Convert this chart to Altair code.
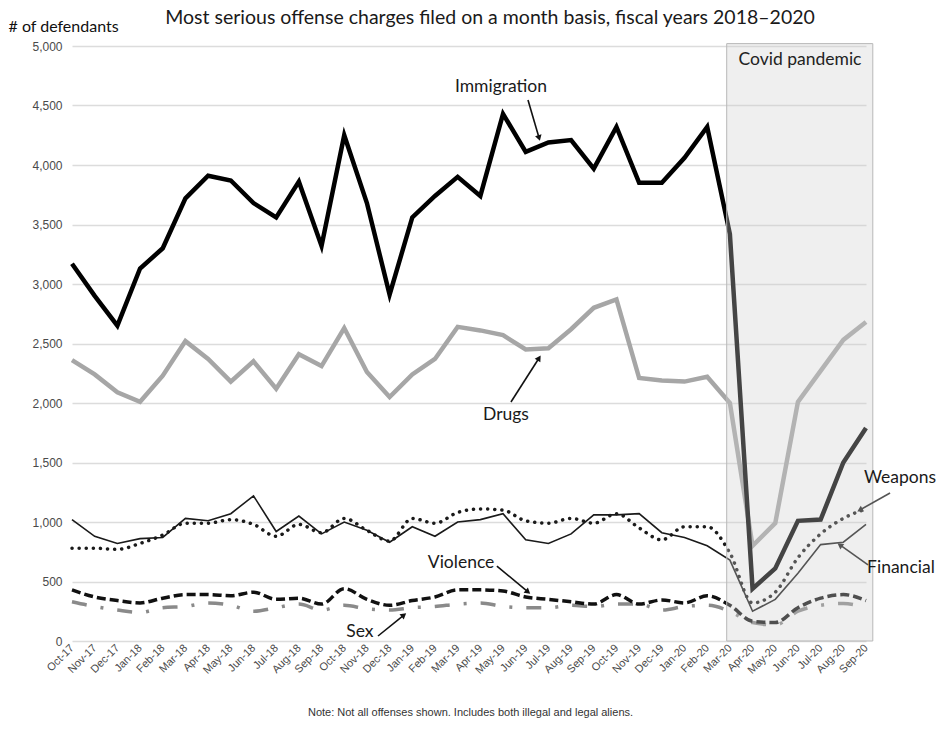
import json
import math

import altair as alt
import pandas as pd

# ---- data -------------------------------------------------------------
months = [
    "Oct-17", "Nov-17", "Dec-17", "Jan-18", "Feb-18", "Mar-18", "Apr-18", "May-18",
    "Jun-18", "Jul-18", "Aug-18", "Sep-18", "Oct-18", "Nov-18", "Dec-18", "Jan-19",
    "Feb-19", "Mar-19", "Apr-19", "May-19", "Jun-19", "Jul-19", "Aug-19", "Sep-19",
    "Oct-19", "Nov-19", "Dec-19", "Jan-20", "Feb-20", "Mar-20", "Apr-20", "May-20",
    "Jun-20", "Jul-20", "Aug-20", "Sep-20",
]

immigration = [3170, 2900, 2650, 3130, 3300, 3720, 3910, 3870, 3680, 3560, 3860, 3320,
               4250, 3680, 2910, 3560, 3740, 3900, 3740, 4430, 4110, 4190, 4210, 3970,
               4320, 3850, 3850, 4060, 4320, 3420, 440, 610, 1010, 1020, 1500, 1790]
drugs = [2360, 2240, 2090, 2010, 2230, 2520, 2370, 2180, 2350, 2120, 2410, 2310,
         2630, 2260, 2050, 2240, 2370, 2640, 2610, 2570, 2450, 2460, 2620, 2800,
         2870, 2210, 2190, 2180, 2220, 2000, 800, 990, 2010, 2270, 2530, 2680]
financial = [1020, 880, 820, 860, 870, 1030, 1010, 1070, 1220, 920, 1050, 900,
             1000, 930, 830, 960, 880, 1000, 1020, 1070, 850, 820, 900, 1060,
             1060, 1070, 910, 870, 800, 680, 250, 350, 570, 810, 830, 980]
weapons = [780, 780, 770, 820, 890, 990, 990, 1020, 980, 880, 980, 910,
           1030, 930, 840, 1030, 990, 1080, 1110, 1100, 1010, 990, 1030, 990,
           1070, 950, 850, 960, 960, 740, 320, 410, 700, 900, 1030, 1110]
violence = [430, 370, 340, 320, 360, 390, 390, 380, 410, 350, 360, 310,
            440, 350, 300, 340, 370, 430, 430, 420, 370, 350, 330, 310,
            390, 310, 345, 320, 380, 300, 165, 155, 280, 360, 390, 340]
sex = [330, 290, 260, 240, 280, 290, 320, 300, 250, 280, 310, 260,
       300, 270, 260, 280, 290, 310, 320, 290, 280, 280, 300, 290,
       310, 310, 260, 290, 300, 250, 155, 135, 250, 300, 315, 280]

series = {
    "Sex": sex,
    "Violence": violence,
    "Weapons": weapons,
    "Financial": financial,
    "Drugs": drugs,
    "Immigration": immigration,
}

# Covid shading, in month-index units and defendants
covid_x = [28.86, 35.3]
covid_y = [0, 5020]

# Annotation labels: text, month index, value
label_text = ["Immigration", "Drugs", "Violence", "Sex", "Weapons", "Financial"]
label_idx = [18.91, 19.13, 17.15, 12.69, 36.5, 36.54]
label_val = [4655, 1899, 655, 76, 1370, 613]

# Arrows: start (index, value) -> end (index, value)
arrow_x0 = [20.10, 19.35, 18.73, 13.49, 36.06, 35.09]
arrow_y0 = [4546, 2008, 630, 42, 1244, 639]
arrow_x1 = [20.59, 20.59, 20.10, 14.63, 34.73, 33.85]
arrow_y1 = [4227, 2378, 412, 218, 1101, 807]
arrow_col = ["#111111", "#111111", "#111111", "#111111", "#555555", "#555555"]

# ---- geometry ---------------------------------------------------------
W, H = 794, 595
X_MAX, Y_MAX = 35, 5000

rows = []
for name, vals in series.items():
    for i, v in enumerate(vals):
        rows.append({"series": name, "idx": i, "value": v})
df = pd.DataFrame(rows)

label_expr = json.dumps(months) + "[datum.value]"

x_axis = alt.Axis(
    values=list(range(len(months))), labelExpr=label_expr, labelAngle=315,
    labelAlign="right", labelBaseline="middle", labelPadding=5,
    labelOverlap=False, labelFontSize=11, labelFont="Liberation Sans",
    labelColor="#4a4a4a",
    grid=False, ticks=False, domain=False,
    title="Note: Not all offenses shown. Includes both illegal and legal aliens.",
    titleFont="Liberation Sans", titleFontSize=11, titleFontWeight="normal",
    titleColor="#333333", titleX=398, titleY=71, titleAlign="center",
    titleBaseline="middle",
)
y_axis = alt.Axis(
    values=list(range(0, 5001, 500)), format=",d", grid=True,
    gridColor="#dcdcdc", gridWidth=1.5, domain=False, ticks=False,
    labelPadding=10, labelFontSize=12, labelFont="Liberation Sans",
    labelColor="#4a4a4a",
    title="# of defendants", titleAngle=0, titleX=-64, titleY=-20,
    titleAlign="left", titleBaseline="middle", titleFont="Lato",
    titleFontSize=16, titleFontWeight="normal", titleColor="#111111",
)

x_scale = alt.Scale(domain=[0, X_MAX], nice=False, zero=False)
y_scale = alt.Scale(domain=[0, Y_MAX], nice=False)


def xq(field):
    return alt.X(field, type="quantitative", scale=x_scale, axis=x_axis)


def yq(field):
    return alt.Y(field, type="quantitative", scale=y_scale, axis=y_axis)


styles = {
    "Sex": dict(color="#8a8a8a", strokeWidth=3.5, strokeDash=[15, 14, 3, 14],
                interpolate="monotone"),
    "Violence": dict(color="#111111", strokeWidth=3.5, strokeDash=[9, 4],
                     interpolate="monotone"),
    "Weapons": dict(color="#1a1a1a", strokeWidth=3.5, strokeDash=[0.1, 7],
                    strokeCap="round", interpolate="monotone"),
    "Financial": dict(color="#1a1a1a", strokeWidth=1.6),
    "Drugs": dict(color="#a6a6a6", strokeWidth=4.5),
    "Immigration": dict(color="#000000", strokeWidth=4.5),
}

layers = []
for name in series:
    layers.append(
        alt.Chart(df)
        .transform_filter(alt.datum.series == name)
        .mark_line(**styles[name])
        .encode(x=xq("idx"), y=yq("value"))
    )

# translucent covid overlay
covid_df = pd.DataFrame({"x0": [covid_x[0]], "x1": [covid_x[1]],
                         "y0": [covid_y[0]], "y1": [covid_y[1]]})
covid = alt.Chart(covid_df).mark_rect(
    fill="#cfcfcf", fillOpacity=0.33, stroke="#b8b8b8", strokeWidth=1
).encode(x=xq("x0"), x2="x1:Q", y=yq("y0"), y2="y1:Q")
layers.append(covid)

covid_label = alt.Chart(
    pd.DataFrame({"t": ["Covid pandemic"], "i": [32.09], "v": [4882]})
).mark_text(
    font="Lato", fontSize=17.5, color="#222222", align="center", baseline="middle"
).encode(x=xq("i"), y=yq("v"), text="t:N")
layers.append(covid_label)

# arrows
arr_df = pd.DataFrame({"x0": arrow_x0, "y0": arrow_y0, "x1": arrow_x1,
                       "y1": arrow_y1, "col": arrow_col})
angles = []
for a, b, c, d in zip(arrow_x0, arrow_y0, arrow_x1, arrow_y1):
    dx = (c - a) * W / X_MAX
    dy = -(d - b) * H / Y_MAX
    angles.append(math.degrees(math.atan2(dx, -dy)) % 360)
arr_df["ang"] = angles

shafts = alt.Chart(arr_df).mark_rule(strokeWidth=1.6).encode(
    x=xq("x0"), y=yq("y0"), x2="x1:Q", y2="y1:Q",
    color=alt.Color("col:N", scale=None),
)
heads = alt.Chart(arr_df).mark_point(
    shape="triangle-up", filled=True, size=45, opacity=1
).encode(
    x=xq("x1"), y=yq("y1"),
    angle=alt.Angle("ang:Q", scale=None),
    color=alt.Color("col:N", scale=None),
)
layers += [shafts, heads]

lab_df = pd.DataFrame({"t": label_text, "i": label_idx, "v": label_val})
labels = alt.Chart(lab_df).mark_text(
    font="Lato", fontSize=17.5, color="#1a1a1a", align="center", baseline="middle"
).encode(x=xq("i"), y=yq("v"), text="t:N")
layers.append(labels)

chart = alt.layer(*layers).properties(
    width=W,
    height=H,
    autosize=alt.AutoSizeParams(type="none"),
    padding={"left": 72, "top": 46, "right": 71, "bottom": 104},
    background="white",
    title=alt.TitleParams(
        "Most serious offense charges filed on a month basis, fiscal years 2018\u20132020",
        anchor="middle", frame="group", font="Lato", fontSize=19.5,
        fontWeight="normal", color="#1a1a1a", dx=21, dy=14, offset=4,
    ),
).configure_view(stroke=None)

chart.save("out.html", embed_options={"renderer": "svg", "actions": False})
